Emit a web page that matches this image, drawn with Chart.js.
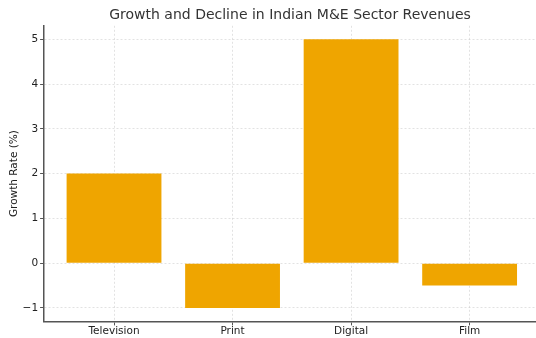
<!DOCTYPE html>
<html>
<head>
<meta charset="utf-8">
<script src="https://cdn.jsdelivr.net/npm/chart.js@4/dist/chart.umd.min.js"></script>
<style>
  html, body { margin: 0; padding: 0; background: #fff; overflow: hidden; }
  #wrap { width: 536px; height: 338px; }
</style>
</head>
<body>
<div id="wrap"><canvas id="myChart" width="536" height="338"></canvas></div>
<script>
const sectors = ["Television", "Print", "Digital", "Film"];
const growthRates = [2, -1, 5, -0.5];
const yTicks = [-1, 0, 1, 2, 3, 4, 5];

const barColor = '#EFA500';
const gridColor = 'rgba(190,190,190,0.45)';
const axisColor = '#555';

let ctx = document.getElementById('myChart').getContext('2d');

const points = growthRates.map((v, i) => ({ x: i, y: v }));

const chart = new Chart(ctx, {
    type: 'bar',
    data: {
        datasets: [{
            label: 'Growth Rate',
            data: points,
            backgroundColor: barColor,
            borderWidth: 0,
            barPercentage: 0.8,
            categoryPercentage: 1
        }]
    },
    options: {
        responsive: false,
        animation: false,
        layout: { padding: { left: 8, right: 0, top: 1, bottom: 0 } },
        plugins: {
            legend: { display: false },
            tooltip: { enabled: false },
            title: {
                display: true,
                text: 'Growth and Decline in Indian M&E Sector Revenues',
                color: '#333',
                fullSize: false,
                font: { family: 'DejaVu Sans', size: 14, weight: 'normal' },
                padding: { top: 6, bottom: 2 }
            }
        },
        scales: {
            x: {
                type: 'linear',
                min: -0.59,
                max: 3.56,
                offset: false,
                z: 1,
                afterBuildTicks: axis => {
                    axis.ticks = sectors.map((s, i) => ({ value: i }));
                },
                ticks: {
                    color: '#222',
                    font: { family: 'DejaVu Sans', size: 10.5 },
                    padding: 0,
                    maxRotation: 0,
                    autoSkip: false,
                    callback: v => sectors[v]
                },
                grid: {
                    offset: false,
                    color: gridColor,
                    lineWidth: 1,
                    tickLength: 4,
                    tickColor: axisColor,
                    tickWidth: 1
                },
                border: { display: true, color: axisColor, width: 1.5, dash: [2, 2] }
            },
            y: {
                min: -1.3,
                max: 5.3,
                z: 1,
                afterBuildTicks: axis => {
                    axis.ticks = yTicks.map(v => ({ value: v }));
                },
                ticks: {
                    color: '#222',
                    font: { family: 'DejaVu Sans', size: 10.5 },
                    padding: 2,
                    callback: v => v < 0 ? '\u2212' + Math.abs(v) : String(v)
                },
                grid: {
                    color: gridColor,
                    lineWidth: 1,
                    tickLength: 4,
                    tickColor: axisColor,
                    tickWidth: 1
                },
                border: { display: true, color: axisColor, width: 1.5, dash: [2, 2] },
                title: {
                    display: true,
                    text: 'Growth Rate (%)',
                    color: '#222',
                    font: { family: 'DejaVu Sans', size: 10.5 },
                    padding: { top: 0, bottom: 0 }
                }
            }
        }
    }
});
</script>
</body>
</html>
